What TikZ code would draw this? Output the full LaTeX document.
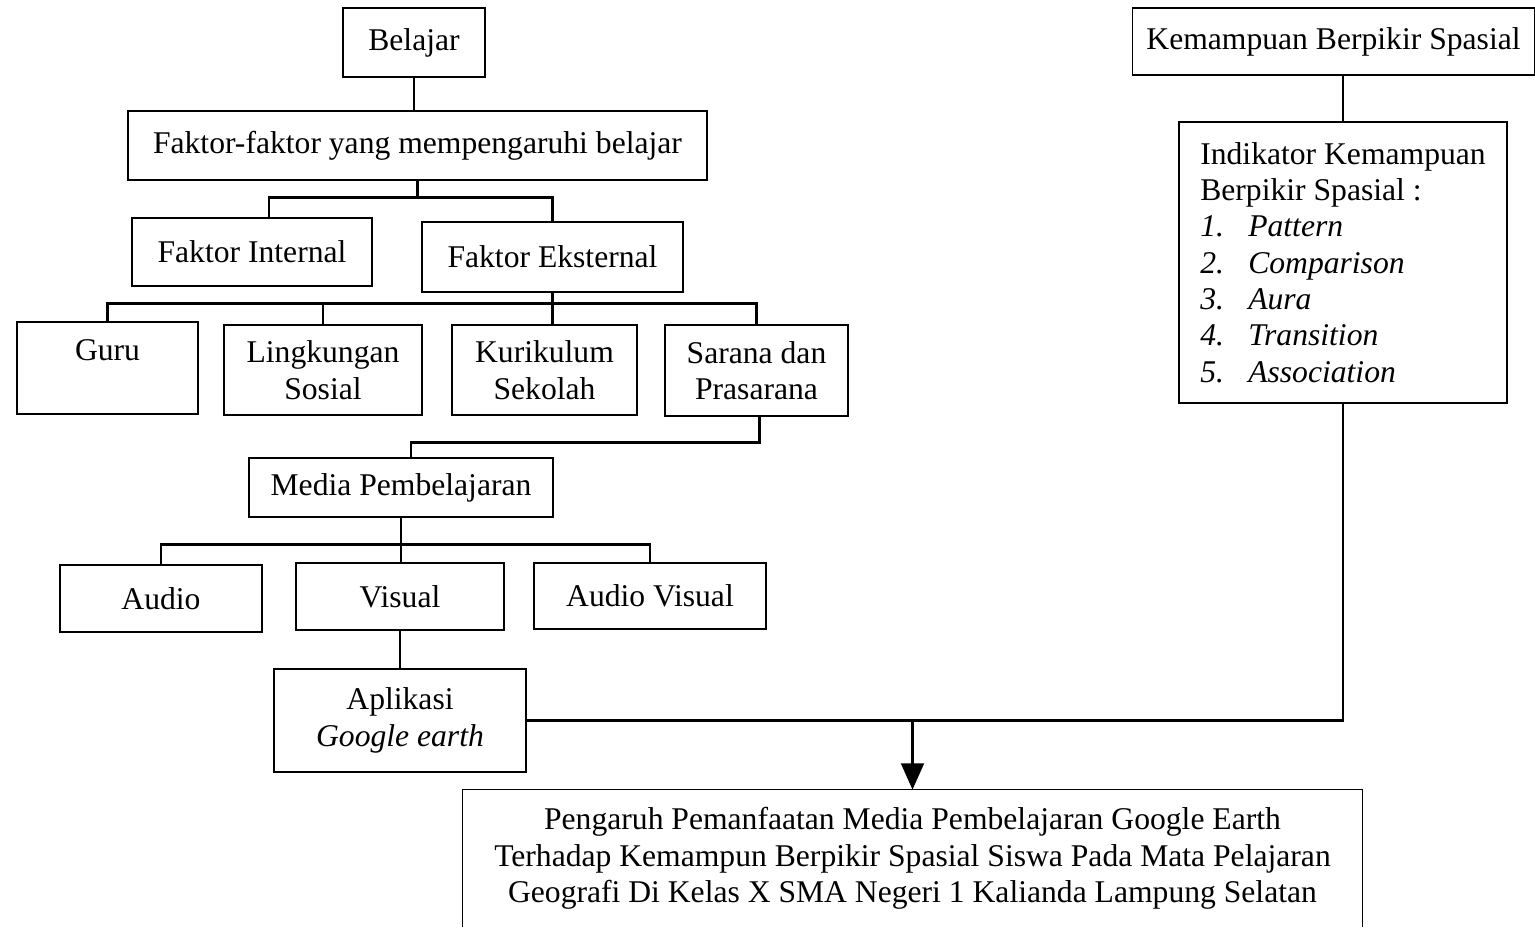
\documentclass[tikz,border=0pt]{standalone}
\usepackage{fontspec}
\setmainfont{Liberation Serif}
\usepackage{tikz}
\usetikzlibrary{positioning, arrows.meta, calc}

\begin{document}
\begin{tikzpicture}[x=0.02cm, y=-0.02cm, auto,
    font=\fontsize{18}{20.7}\selectfont,
    box/.style={rectangle, draw, line width=0.7pt, align=center, inner sep=0pt},
    conn/.style={line width=1.3pt}]
    \useasboundingbox (0,0) rectangle (1535,927);

    % left tree
    \node (belajar) [box, minimum width=2.84cm, minimum height=1.38cm] at (414,42.5) {Belajar};
    \node (faktor) [box, minimum width=11.58cm, minimum height=1.38cm] at (417.5,145.5) {Faktor-faktor yang mempengaruhi belajar};
    \node (internal) [box, minimum width=4.8cm, minimum height=1.36cm] at (252,252) {Faktor Internal};
    \node (eksternal) [box, minimum width=5.22cm, minimum height=1.4cm] at (552.5,257) {Faktor Eksternal};
    \node (guru) [box, minimum width=3.62cm, minimum height=1.84cm] at (107.5,368) {Guru\\~};
    \node (lingkungan) [box, minimum width=3.96cm, minimum height=1.8cm] at (323,370) {Lingkungan\\Sosial};
    \node (kurikulum) [box, minimum width=3.7cm, minimum height=1.8cm] at (544.5,370) {Kurikulum\\Sekolah};
    \node (sarana) [box, minimum width=3.66cm, minimum height=1.82cm] at (756.5,370.5) {Sarana dan\\Prasarana};
    \node (media) [box, minimum width=6.08cm, minimum height=1.18cm] at (401,487.5) {Media Pembelajaran};
    \node (audio) [box, minimum width=4.04cm, minimum height=1.34cm] at (161,598.5) {Audio};
    \node (visual) [box, minimum width=4.16cm, minimum height=1.34cm] at (400,596.5) {Visual};
    \node (audiovisual) [box, minimum width=4.64cm, minimum height=1.32cm] at (650,596) {Audio Visual};
    \node (aplikasi) [box, minimum width=5.04cm, minimum height=2.06cm, below of=visual, node distance=2.48cm] {Aplikasi\\\textit{Google earth}};

    % right side
    \node (kemampuan) [box, minimum width=8.04cm, minimum height=1.34cm] at (1333.5,41.5) {Kemampuan Berpikir Spasial};
    \node (indikator) [box, align=left, inner xsep=0.4cm, minimum width=6.56cm, minimum height=5.62cm] at (1343,262.5)
        {Indikator Kemampuan\\Berpikir Spasial :\\
         \makebox[0.96cm][l]{\textit{1.}}\textit{Pattern}\\
         \makebox[0.96cm][l]{\textit{2.}}\textit{Comparison}\\
         \makebox[0.96cm][l]{\textit{3.}}\textit{Aura}\\
         \makebox[0.96cm][l]{\textit{4.}}\textit{Transition}\\
         \makebox[0.96cm][l]{\textit{5.}}\textit{Association}};

    % result (open at the bottom)
    \node (hasil) [align=center, minimum width=17.98cm, minimum height=2.74cm] at (912.5,858.5)
        {Pengaruh Pemanfaatan Media Pembelajaran Google Earth\\
         Terhadap Kemampun Berpikir Spasial Siswa Pada Mata Pelajaran\\
         Geografi Di Kelas X SMA Negeri 1 Kalianda Lampung Selatan};
    \draw[line width=0.7pt] (hasil.south west) -- (hasil.north west) -- (hasil.north east) -- (hasil.south east);

    % connectors
    \draw[conn] (belajar.south) -- (belajar.south |- faktor.north);
    \draw[conn] (faktor.south) -- ++(0,17) coordinate (j1);
    \draw[conn] ($(internal.north)+(17,0)$) |- (j1) -| (eksternal.north);
    \draw[conn] (eksternal.south) -- ++(0,11) coordinate (j2);
    \draw[conn] (guru.north) |- (j2) -| (sarana.north);
    \draw[conn] (lingkungan.north) -- (lingkungan.north |- j2);
    \draw[conn] (j2) -- (j2 |- kurikulum.north);
    \draw[conn] ($(sarana.south)+(3,0)$) -- ++(0,26) -| ($(media.north)+(10,0)$);
    \draw[conn] (media.south) -- (media.south |- visual.north);
    \draw[conn] (audio.north) -- ++(0,-20) -| (audiovisual.north);
    \draw[conn] (visual.south) -- (aplikasi.north);
    \draw[conn] (indikator.north) -- (indikator.north |- kemampuan.south);
    \draw[conn] (indikator.south) |- (aplikasi.east);
    \draw[conn, -{Triangle[length=15pt, width=13pt]}] (hasil.north |- aplikasi.east) -- (hasil.north);
\end{tikzpicture}
\end{document}
